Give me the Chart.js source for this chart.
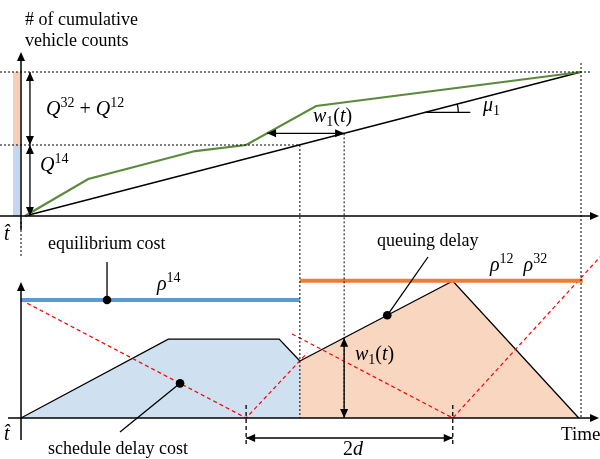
<!DOCTYPE html>
<html>
<head>
<meta charset="utf-8">
<script src="https://cdn.jsdelivr.net/npm/chart.js@4.4.0/dist/chart.umd.min.js"></script>
<style>
body { margin: 0; background: #fff; }
#wrap { width: 600px; height: 459px; }
</style>
</head>
<body>
<div id="wrap"><canvas id="myChart" width="600" height="459"></canvas></div>
<script>
// time: t-hat = 0, last departure = 100
var tHat = 0, tSplit = 49.8, tW = 57.7, tEnd = 100, tD1 = 40.2, tD2 = 77.1;

// upper panel: cumulative vehicle counts
var serviceT = [0.7, 100];
var serviceN = [0, 100];
var arrivalT = [0.7, 12.0, 31.1, 40.2, 52.7, 100];
var arrivalN = [0, 25.7, 45.1, 49.3, 76.4, 100];
var levelQ14 = 49.3, levelAll = 100;

// lower panel: costs
var rho14T = [0, 49.8];
var rho14C = [85.5, 85.5];
var rho12T = [49.8, 100.3];
var rho12C = [99.5, 99.5];
var queue14T = [0, 26.3, 46.1, 49.8];
var queue14C = [0, 57.2, 57.2, 41.3];
var queue12T = [49.8, 77.1, 99.6];
var queue12C = [41.3, 99.3, 0];
var sched14T = [0, 40.2, 51.1];
var sched14C = [85.5, 0, 47.1];
var sched12T = [48.4, 77.1, 103.4];
var sched12C = [60.9, 0, 116.7];

function pts(t, v) {
    return t.map(function (x, i) { return {x: x, y: v[i]}; });
}
function lerp(t, v, x) {
    for (var i = 0; i < t.length - 1; i++) {
        if (x >= t[i] && x <= t[i + 1]) return v[i] + (v[i + 1] - v[i]) * (x - t[i]) / (t[i + 1] - t[i]);
    }
    return v[v.length - 1];
}
function invLerp(t, v, y) {
    for (var i = 0; i < t.length - 1; i++) {
        if ((y - v[i]) * (y - v[i + 1]) <= 0) return t[i] + (t[i + 1] - t[i]) * (y - v[i]) / (v[i + 1] - v[i]);
    }
    return t[t.length - 1];
}

var SERIF = "'Liberation Serif'";

function head(ctx, x, y, ang) {
    ctx.save();
    ctx.translate(x, y);
    ctx.rotate(ang);
    ctx.beginPath();
    ctx.moveTo(0, 0);
    ctx.lineTo(-9, -4);
    ctx.lineTo(-9, 4);
    ctx.closePath();
    ctx.fill();
    ctx.restore();
}
function line(ctx, x1, y1, x2, y2, w, dash) {
    ctx.save();
    ctx.lineWidth = w || 1.3;
    ctx.setLineDash(dash || []);
    ctx.beginPath();
    ctx.moveTo(x1, y1);
    ctx.lineTo(x2, y2);
    ctx.stroke();
    ctx.restore();
}
function arrow(ctx, x1, y1, x2, y2, both) {
    line(ctx, x1, y1, x2, y2, 1.3);
    var a = Math.atan2(y2 - y1, x2 - x1);
    head(ctx, x2, y2, a);
    if (both) head(ctx, x1, y1, a + Math.PI);
}
function math(ctx, x, y, parts) {
    parts.forEach(function (p) {
        var dy = 0;
        if (p[1] == 'i') ctx.font = 'italic 20px ' + SERIF;
        else if (p[1] == 'r') ctx.font = '20px ' + SERIF;
        else { ctx.font = '14px ' + SERIF; dy = p[1] == 'sup' ? -8 : 4; }
        ctx.fillText(p[0], x, y + dy);
        x += ctx.measureText(p[0]).width;
    });
}
function dot(ctx, x, y) {
    ctx.beginPath();
    ctx.arc(x, y, 4.3, 0, Math.PI * 2);
    ctx.fill();
}

var sketch = {
    id: 'sketch',
    afterDatasetsDraw: function (chart) {
        var ctx = chart.ctx;
        var X = function (t) { return chart.scales.x.getPixelForValue(t); };
        var N = function (v) { return chart.scales.yN.getPixelForValue(v); };
        var C = function (v) { return chart.scales.yC.getPixelForValue(v); };
        ctx.save();
        ctx.strokeStyle = '#000';
        ctx.fillStyle = '#000';

        // side bars
        ctx.fillStyle = '#F8CFB4';
        ctx.fillRect(X(tHat) - 8, N(levelAll), 7, N(levelQ14) - N(levelAll));
        ctx.fillStyle = '#C3D8EE';
        ctx.fillRect(X(tHat) - 8, N(levelQ14), 7, N(0) - N(levelQ14));
        ctx.fillStyle = '#000';

        // dotted guides
        var dd = [2, 2];
        line(ctx, 0, N(levelAll), X(tEnd) + 10, N(levelAll), 1, dd);
        line(ctx, 0, N(levelQ14), X(tSplit), N(levelQ14), 1, dd);
        var nW = lerp(serviceT, serviceN, tW);
        line(ctx, X(tSplit), N(levelQ14), X(tSplit), C(0), 1, dd);
        line(ctx, X(tW), N(nW), X(tW), C(0), 1, dd);
        line(ctx, X(tEnd), N(levelAll) - 9, X(tEnd), C(0), 1, dd);
        line(ctx, X(tHat), N(0) + 6, X(tHat), N(0) + 42, 1, dd);

        // upper axes
        line(ctx, X(tHat), N(0) + 14, X(tHat), 58, 1.5);
        head(ctx, X(tHat), 52, -Math.PI / 2);
        line(ctx, 0, N(0), 592, N(0), 1.5);
        head(ctx, 599, N(0), 0);

        // lower axes
        line(ctx, X(tHat), C(0) + 22, X(tHat), 288, 1.5);
        head(ctx, X(tHat), 282, -Math.PI / 2);
        line(ctx, 8, C(0), 592, C(0), 1.5);
        head(ctx, 599, C(0), 0);

        // Q arrows
        arrow(ctx, X(1.6), N(levelAll), X(1.6), N(levelQ14), true);
        arrow(ctx, X(1.6), N(levelQ14), X(1.6), N(0), true);

        // w1(t) horizontal
        var tA = invLerp(arrivalT, arrivalN, nW);
        arrow(ctx, X(tA), N(nW), X(tW), N(nW), true);

        // mu1 angle
        var tm = 72.2, nm = lerp(serviceT, serviceN, tm);
        line(ctx, X(tm), N(nm), X(tm) + 45, N(nm), 1.3);
        var slope = Math.atan2(N(100) - N(0), X(100) - X(0.7));
        ctx.lineWidth = 1.3;
        ctx.beginPath();
        ctx.arc(X(tm), N(nm), 33, slope, 0);
        ctx.stroke();

        // w1(t) vertical
        var cW = lerp(queue12T, queue12C, tW);
        arrow(ctx, X(tW), C(cW), X(tW), C(0), true);

        // 2d
        line(ctx, X(tD1), 405, X(tD1), 446, 1.3, [4, 3]);
        line(ctx, X(tD2), 405, X(tD2), 446, 1.3, [4, 3]);
        arrow(ctx, X(tD1), 438, X(tD2), 438, true);

        // pointers
        var t1 = 15.36, p1 = {x: X(t1), y: C(lerp(rho14T, rho14C, t1))};
        line(ctx, p1.x, 262, p1.x, p1.y, 1.3);
        dot(ctx, p1.x, p1.y);
        var t2 = 65.4, p2 = {x: X(t2), y: C(lerp(queue12T, queue12C, t2))};
        line(ctx, 428, 257, p2.x, p2.y, 1.3);
        dot(ctx, p2.x, p2.y);
        var t3 = 28.4, p3 = {x: X(t3), y: C(lerp(sched14T, sched14C, t3))};
        line(ctx, 120, 432, p3.x, p3.y, 1.3);
        dot(ctx, p3.x, p3.y);

        // text
        ctx.font = '18px ' + SERIF;
        ctx.fillText('# of cumulative', 25, 25);
        ctx.fillText('vehicle counts', 25, 46);
        ctx.fillText('equilibrium cost', 48, 249);
        ctx.fillText('queuing delay', 377, 246);
        ctx.fillText('schedule delay cost', 48, 454);
        ctx.font = '19px ' + SERIF;
        ctx.fillText('Time', 561, 440);

        math(ctx, 46, 115, [['Q', 'i'], ['32', 'sup'], [' + ', 'r'], ['Q', 'i'], ['12', 'sup']]);
        math(ctx, 40, 171, [['Q', 'i'], ['14', 'sup']]);
        math(ctx, 313, 122, [['w', 'i'], ['1', 'sub'], ['(', 'r'], ['t', 'i'], [')', 'r']]);
        math(ctx, 483, 111, [['\u03bc', 'i'], ['1', 'sub']]);
        math(ctx, 157, 290, [['\u03c1', 'i'], ['14', 'sup']]);
        math(ctx, 490, 271, [['\u03c1', 'i'], ['12', 'sup'], ['  ', 'r'], ['\u03c1', 'i'], ['32', 'sup']]);
        math(ctx, 355, 360, [['w', 'i'], ['1', 'sub'], ['(', 'r'], ['t', 'i'], [')', 'r']]);
        math(ctx, 343, 455, [['2', 'r'], ['d', 'i']]);
        math(ctx, 4, 240, [['t\u0302', 'i']]);
        math(ctx, 4, 440, [['t\u0302', 'i']]);
        ctx.restore();
    }
};

var ctx = document.getElementById('myChart');
var chart = new Chart(ctx, {
    type: 'line',
    data: {
        datasets: [
            {data: pts(arrivalT, arrivalN), yAxisID: 'yN', borderColor: '#5A8B3C', borderWidth: 2.2},
            {data: pts(serviceT, serviceN), yAxisID: 'yN', borderColor: '#000', borderWidth: 1.4},
            {data: pts(rho14T, rho14C), yAxisID: 'yC', borderColor: '#5B9BD5', borderWidth: 4},
            {data: pts(rho12T, rho12C), yAxisID: 'yC', borderColor: '#ED7D31', borderWidth: 4},
            {data: pts(sched14T, sched14C), yAxisID: 'yC', borderColor: '#FF0000', borderWidth: 1.2, borderDash: [4, 3]},
            {data: pts(sched12T, sched12C), yAxisID: 'yC', borderColor: '#FF0000', borderWidth: 1.2, borderDash: [4, 3]},
            {data: pts(queue14T, queue14C), yAxisID: 'yC', borderColor: '#000', borderWidth: 1.3,
                backgroundColor: '#CFE0F1', fill: 'origin', order: 5},
            {data: pts(queue12T, queue12C), yAxisID: 'yC', borderColor: '#000', borderWidth: 1.3,
                backgroundColor: '#F8D6C0', fill: 'origin', order: 5}
        ]
    },
    plugins: [sketch],
    options: {
        responsive: false,
        animation: false,
        layout: {padding: 0},
        elements: {point: {radius: 0}, line: {tension: 0}},
        plugins: {legend: {display: false}, tooltip: {enabled: false}},
        scales: {
            x: {type: 'linear', min: -3.75, max: 103.39, display: false},
            yN: {type: 'linear', min: -168.75, max: 150, display: false},
            yC: {type: 'linear', min: -29.71, max: 302.9, display: false}
        }
    }
});
</script>
</body>
</html>
